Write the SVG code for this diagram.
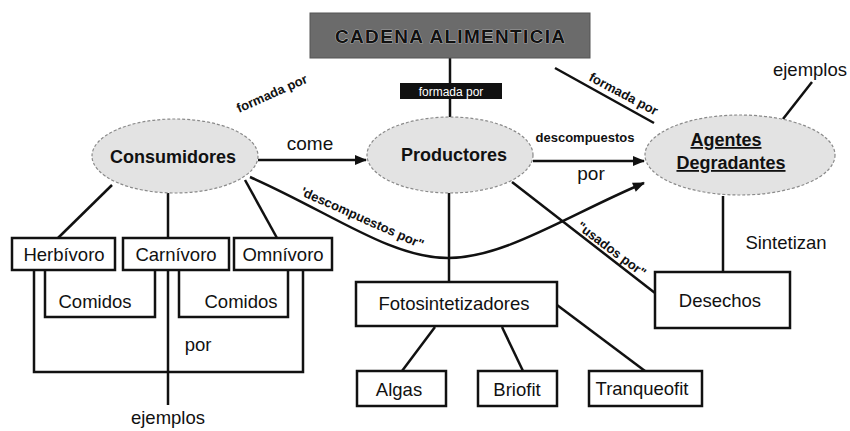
<svg xmlns="http://www.w3.org/2000/svg" width="850" height="431" viewBox="0 0 850 431">
<defs>
<style>
.t{font-family:"Liberation Sans",Arial,sans-serif;fill:#111}
.box{fill:#fff;stroke:#111;stroke-width:2.5}
.ell{fill:#e3e3e3;stroke:#8a8a8a;stroke-width:1.2;stroke-dasharray:3 2}
.ln{fill:none;stroke:#111;stroke-width:2.5}
.n{font-size:18.5px}
.b{font-weight:bold}
.s{font-size:13px;font-weight:bold}
</style>
<marker id="ah" viewBox="0 0 12 10" refX="11" refY="5" markerWidth="13" markerHeight="10" markerUnits="userSpaceOnUse" orient="auto">
<path d="M0,0 L12,5 L0,10 z" fill="#111"/>
</marker>
</defs>
<rect width="850" height="431" fill="#fff"/>

<g id="connectors">
<line class="ln" x1="450" y1="58" x2="450" y2="118"/>
<line class="ln" x1="258" y1="160" x2="366" y2="160" marker-end="url(#ah)"/>
<line class="ln" x1="533" y1="161" x2="644" y2="161" marker-end="url(#ah)"/>
<path class="ln" d="M250,177 C330,212 390,258 448,258 C505,258 570,214 644,183" marker-end="url(#ah)"/>
<line class="ln" x1="555" y1="68" x2="654" y2="123"/>
<line class="ln" x1="783" y1="119" x2="812" y2="82"/>
<line class="ln" x1="512" y1="182" x2="655" y2="293"/>
<line class="ln" x1="449" y1="193" x2="449" y2="282"/>
<line class="ln" x1="723" y1="196" x2="723" y2="272"/>
<line class="ln" x1="435" y1="327" x2="402" y2="371"/>
<line class="ln" x1="502" y1="327" x2="523" y2="371"/>
<line class="ln" x1="557" y1="305" x2="645" y2="371"/>
<line class="ln" x1="112" y1="185" x2="58" y2="238"/>
<line class="ln" x1="168" y1="193" x2="168" y2="238"/>
<line class="ln" x1="245" y1="180" x2="277" y2="238"/>
<polyline class="ln" points="45,270 45,317 155,317 155,270"/>
<polyline class="ln" points="179,270 179,317 288,317 288,270"/>
<polyline class="ln" points="34,270 34,372 303,372 303,270"/>
<line class="ln" x1="168" y1="270" x2="168" y2="405"/>
</g>

<g id="title">
<rect x="310" y="13" width="280" height="45" fill="#6b6b6b" stroke="#555" stroke-width="1"/>
<text class="t b" x="450" y="43" font-size="19" text-anchor="middle" textLength="230" lengthAdjust="spacing" fill="#111" stroke="#d8d8d8" stroke-width="0.7" paint-order="stroke">CADENA ALIMENTICIA</text>
</g>

<g id="label-formada-center">
<rect x="400" y="83" width="102" height="16" fill="#111"/>
<text class="t" x="451" y="95.5" font-size="12" text-anchor="middle" style="fill:#fff">formada por</text>
</g>

<g id="consumidores">
<ellipse class="ell" cx="175" cy="156" rx="83" ry="37"/>
<text class="t b" x="173" y="163" font-size="18" text-anchor="middle">Consumidores</text>
</g>
<g id="productores">
<ellipse class="ell" cx="450" cy="155" rx="83" ry="38"/>
<text class="t b" x="454" y="161" font-size="18" text-anchor="middle">Productores</text>
</g>
<g id="agentes">
<ellipse class="ell" cx="740" cy="155" rx="95" ry="40"/>
<text class="t b" x="726" y="146" font-size="18" text-anchor="middle" text-decoration="underline">Agentes</text>
<text class="t b" x="731" y="169" font-size="18" text-anchor="middle" text-decoration="underline">Degradantes</text>
</g>

<g id="herbivoro"><rect class="box" x="12" y="238" width="103" height="32"/><text class="t n" x="64" y="261" text-anchor="middle">Herbívoro</text></g>
<g id="carnivoro"><rect class="box" x="123" y="238" width="106" height="32"/><text class="t n" x="176" y="261" text-anchor="middle">Carnívoro</text></g>
<g id="omnivoro"><rect class="box" x="234" y="238" width="98" height="32"/><text class="t n" x="283" y="261" text-anchor="middle">Omnívoro</text></g>
<g id="fotosintetizadores"><rect class="box" x="356" y="282" width="201" height="44"/><text class="t n" x="454" y="310" text-anchor="middle">Fotosintetizadores</text></g>
<g id="algas"><rect class="box" x="357" y="371" width="89" height="35"/><text class="t n" x="399" y="396" text-anchor="middle">Algas</text></g>
<g id="briofit"><rect class="box" x="478" y="371" width="79" height="35"/><text class="t n" x="517" y="396" text-anchor="middle">Briofit</text></g>
<g id="tranqueofit"><rect class="box" x="589" y="371" width="113" height="35"/><text class="t n" x="642" y="395" text-anchor="middle">Tranqueofit</text></g>
<g id="desechos"><rect class="box" x="655" y="272" width="135" height="56"/><text class="t n" x="720" y="307" text-anchor="middle">Desechos</text></g>

<g id="labels">
<text class="t" x="310" y="150" font-size="19" text-anchor="middle">come</text>
<text class="t s" x="585" y="142" text-anchor="middle">descompuestos</text>
<text class="t" x="591" y="180" font-size="19" text-anchor="middle">por</text>
<text class="t s" transform="translate(239,113) rotate(-24)">formada por</text>
<text class="t s" transform="translate(588,80) rotate(28)">formada por</text>
<text class="t s" transform="translate(300,195) rotate(24)">'descompuestos por"</text>
<text class="t s" transform="translate(576,228) rotate(37)">"usados por"</text>
<text class="t" x="810" y="76" font-size="18.5" text-anchor="middle">ejemplos</text>
<text class="t" x="786" y="249" font-size="18.5" text-anchor="middle">Sintetizan</text>
<text class="t n" x="95" y="308" text-anchor="middle">Comidos</text>
<text class="t n" x="241" y="308" text-anchor="middle">Comidos</text>
<text class="t n" x="198" y="351" text-anchor="middle">por</text>
<text class="t n" x="168" y="424" text-anchor="middle">ejemplos</text>
</g>
</svg>
